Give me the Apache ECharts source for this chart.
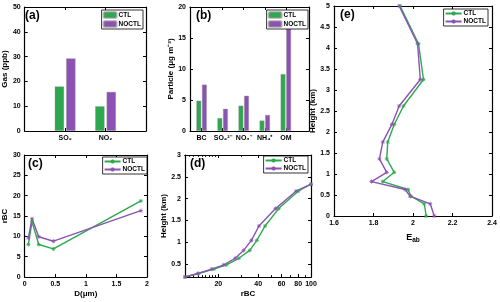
<!DOCTYPE html>
<html><head><meta charset="utf-8">
<script src="https://cdn.jsdelivr.net/npm/echarts@6/dist/echarts.min.js"></script>
<style>html,body{margin:0;padding:0;background:#fff}#c{width:500px;height:302px}</style>
</head><body><div id="c"></div>
<script>
// ---------- data ----------
const catsA = ['SO₂', 'NO₂'];
const gasCTL = [18.0, 10.0];
const gasNOCTL = [29.3, 15.8];

const catsB = ['BC', 'SO₄²⁻', 'NO₃⁻', 'NH₄⁺', 'OM'];
const partCTL = [4.9, 2.1, 4.1, 1.7, 9.2];
const partNOCTL = [7.5, 3.6, 5.7, 2.6, 16.5];

const diamC = [0.06, 0.12, 0.23, 0.47, 1.9];
const rbcCTLc = [8.0, 13.6, 8.0, 6.9, 18.7];
const rbcNOCTLc = [9.6, 14.3, 9.9, 8.8, 16.3];

const heightD = [0.2, 0.28, 0.38, 0.48, 0.63, 0.81, 1.04, 1.37, 1.77, 2.17, 2.33];
const rbcCTLd = [11.2, 14.2, 18.5, 23, 28.5, 34.5, 39, 45, 57, 80, 100];
const rbcNOCTLd = [11.2, 14.0, 17.8, 22, 26.8, 31.0, 35.5, 40.5, 54, 77, 100];
const rbcMajor = [20, 40, 60, 80, 100];
const rbcMinor = [12, 13, 14, 15, 16, 17, 18, 19, 30, 50, 70, 90];

const heightE = [0, 0.29, 0.47, 0.63, 0.82, 1.04, 1.36, 1.76, 2.18, 2.62, 3.25, 4.1, 5.0];
const eabCTL = [2.067, 2.057, 1.99, 1.975, 1.847, 1.905, 1.867, 1.872, 1.905, 1.952, 2.053, 2.028, 1.935];
const eabNOCTL = [2.108, 2.087, 1.986, 1.96, 1.79, 1.867, 1.83, 1.847, 1.893, 1.93, 2.037, 2.023, 1.93];

// ---------- style ----------
const GREEN = '#2ea84f', PURPLE = '#8c52b3';
const FONT = 'Liberation Sans';
const grids = [
  {left: 20, top: 7, width: 126, height: 124},
  {left: 190, top: 7, width: 119, height: 124},
  {left: 23, top: 155, width: 124, height: 122},
  {left: 185, top: 155, width: 126, height: 122},
  {left: 334, top: 6, width: 158, height: 210}
];
const lab = {color: '#000', fontSize: 7, fontWeight: 'bold', fontFamily: FONT, margin: 4};
const nameStyle = {color: '#000', fontSize: 8, fontWeight: 'bold', fontFamily: FONT};
function ax(kind, gi, pos, o) {
  const mirror = (pos === 'top' || pos === 'right');
  const a = Object.assign({
    type: 'value', gridIndex: gi, position: pos,
    axisLine: {show: true, onZero: false, lineStyle: {color: '#000', width: 1.2}},
    axisTick: {show: true, inside: true, length: 3, lineStyle: {color: '#000', width: 1}},
    splitLine: {show: false},
    axisLabel: Object.assign({show: !mirror}, lab),
    nameTextStyle: nameStyle, nameLocation: 'middle'
  }, o || {});
  if (o && o.tickVals) { a.axisTick.customValues = o.tickVals; if (!mirror) a.axisLabel.customValues = o.tickVals; delete a.tickVals; }
  if (o && o.fmt) { a.axisLabel.formatter = o.fmt; delete a.fmt; }
  if (o && o.tickLen) { a.axisTick.length = o.tickLen; delete a.tickLen; }
  if (mirror) { delete a.name; }
  return a;
}
const xAxes = [], yAxes = [];
// (a)
const xa = {min: 0, max: 3, tickVals: [1, 2], fmt: v => catsA[Math.round(v) - 1] || ''};
xAxes.push(ax('x', 0, 'bottom', xa), ax('x', 0, 'top', xa));
const ya = {min: 0, max: 50, interval: 10, name: 'Gas (ppb)', nameGap: 12};
yAxes.push(ax('y', 0, 'left', ya), ax('y', 0, 'right', ya));
// (b)
const xb = {min: 0.45, max: 6.1, tickVals: [1, 2, 3, 4, 5], fmt: v => catsB[Math.round(v) - 1] || ''};
xAxes.push(ax('x', 1, 'bottom', xb), ax('x', 1, 'top', xb));
const yb = {min: 0, max: 20, interval: 5, name: 'Particle (μg m⁻³)', nameGap: 14};
yAxes.push(ax('y', 1, 'left', yb), ax('y', 1, 'right', yb));
// (c)
const xc = {min: 0, max: 2, interval: 0.5, name: 'D(μm)', nameGap: 13};
xAxes.push(ax('x', 2, 'bottom', xc), ax('x', 2, 'top', xc));
const yc = {min: 0, max: 30, interval: 5, name: 'rBC', nameGap: 13};
yAxes.push(ax('y', 2, 'left', yc), ax('y', 2, 'right', yc));
// (d)  log10 scale for rBC
const lmin = Math.log10(Math.min(...rbcCTLd, ...rbcNOCTLd)), lmax = 2;
const xdMaj = {min: lmin, max: lmax, tickVals: rbcMajor.map(Math.log10), fmt: v => String(Math.round(Math.pow(10, v))), name: 'rBC', nameGap: 13};
const xdMin = {min: lmin, max: lmax, tickVals: rbcMinor.map(Math.log10), tickLen: 1.8};
xAxes.push(ax('x', 3, 'bottom', xdMaj), ax('x', 3, 'top', xdMaj));
const xdMinB = ax('x', 3, 'bottom', xdMin); xdMinB.axisLabel.show = false;
xAxes.push(xdMinB, ax('x', 3, 'top', xdMin));
const yd = {min: Math.min(...heightD), max: 3, tickVals: [0.5, 1, 1.5, 2, 2.5, 3], name: 'Height (km)', nameGap: 16};
yAxes.push(ax('y', 3, 'left', yd), ax('y', 3, 'right', yd));
// (e)
const xe = {min: 1.6, max: 2.4, interval: 0.2, name: '{a|E}{s|ab}', nameGap: 15,
  nameTextStyle: Object.assign({}, nameStyle, {rich: {a: {fontSize: 9, fontWeight: 'bold', fontFamily: FONT}, s: {fontSize: 6.5, fontWeight: 'bold', fontFamily: FONT, padding: [6, 0, 0, 0]}}})};
xAxes.push(ax('x', 4, 'bottom', xe), ax('x', 4, 'top', xe));
const ye = {min: 0, max: 5, interval: 0.5, name: 'Height (km)', nameGap: 16};
yAxes.push(ax('y', 4, 'left', ye), ax('y', 4, 'right', ye));

const barStyle = c => ({color: c, borderColor: 'rgba(150,150,150,0.6)', borderWidth: 0.7});
const mk = 'path://M0,-1L0,1M-1,0L1,0M-0.7,-0.7L0.7,0.7M-0.7,0.7L0.7,-0.7';
function line(name, xi, yi, data, color) {
  return {type: 'line', name, xAxisIndex: xi, yAxisIndex: yi, data, symbol: mk, symbolSize: 4,
    showSymbol: true, lineStyle: {color, width: 1.4}, itemStyle: {color, borderColor: color, borderWidth: 0.8}};
}
const series = [
  {type: 'bar', name: 'CTL_a', xAxisIndex: 0, yAxisIndex: 0, barWidth: 9.5, barGap: '20%', itemStyle: barStyle(GREEN), data: gasCTL.map((v, i) => [i + 1, v])},
  {type: 'bar', name: 'NOCTL_a', xAxisIndex: 0, yAxisIndex: 0, barWidth: 9.5, barGap: '20%', itemStyle: barStyle(PURPLE), data: gasNOCTL.map((v, i) => [i + 1, v])},
  {type: 'bar', name: 'CTL_b', xAxisIndex: 2, yAxisIndex: 2, barWidth: 5, barGap: '12%', itemStyle: barStyle(GREEN), data: partCTL.map((v, i) => [i + 1, v])},
  {type: 'bar', name: 'NOCTL_b', xAxisIndex: 2, yAxisIndex: 2, barWidth: 5, barGap: '12%', itemStyle: barStyle(PURPLE), data: partNOCTL.map((v, i) => [i + 1, v])},
  line('CTL_c', 4, 4, diamC.map((d, i) => [d, rbcCTLc[i]]), GREEN),
  line('NOCTL_c', 4, 4, diamC.map((d, i) => [d, rbcNOCTLc[i]]), PURPLE),
  line('CTL_d', 6, 6, heightD.map((h, i) => [Math.log10(rbcCTLd[i]), h]), GREEN),
  line('NOCTL_d', 6, 6, heightD.map((h, i) => [Math.log10(rbcNOCTLd[i]), h]), PURPLE),
  line('CTL_e', 10, 8, heightE.map((h, i) => [eabCTL[i], h]), GREEN),
  line('NOCTL_e', 10, 8, heightE.map((h, i) => [eabNOCTL[i], h]), PURPLE)
];
function legend(sfx, right, top, bar) {
  return {data: ['CTL_' + sfx, 'NOCTL_' + sfx], orient: 'vertical', right, top, selectedMode: false,
    formatter: n => n.split('_')[0], itemGap: 1, padding: [1, 2, 1, 1], itemWidth: bar ? 13 : 16, itemHeight: bar ? 6 : 5,
    backgroundColor: '#fff', borderColor: '#000', borderWidth: 0.8, borderRadius: 0,
    textStyle: {fontSize: 6.5, fontWeight: 'bold', fontFamily: FONT, color: '#000', padding: [0, 0, 0, -3]}};
}
const titles = [['(a)', 25, 10], ['(b)', 196, 10], ['(c)', 28, 158], ['(d)', 190, 158], ['(e)', 340, 9]].map(t => ({
  text: t[0], left: t[1], top: t[2], padding: 0, textStyle: {fontSize: 12, fontWeight: 'bold', fontFamily: FONT, color: '#000'}}));
const chart = echarts.init(document.getElementById('c'), null, {renderer: 'canvas'});
chart.setOption({
  animation: false, backgroundColor: '#fff',
  title: titles,
  grid: grids,
  xAxis: xAxes, yAxis: yAxes,
  legend: [legend('a', 357, 10, true), legend('b', 192, 10, true), legend('c', 353, 157, false), legend('d', 192, 156, false), legend('e', 12, 9, false)],
  series
});
</script></body></html>
